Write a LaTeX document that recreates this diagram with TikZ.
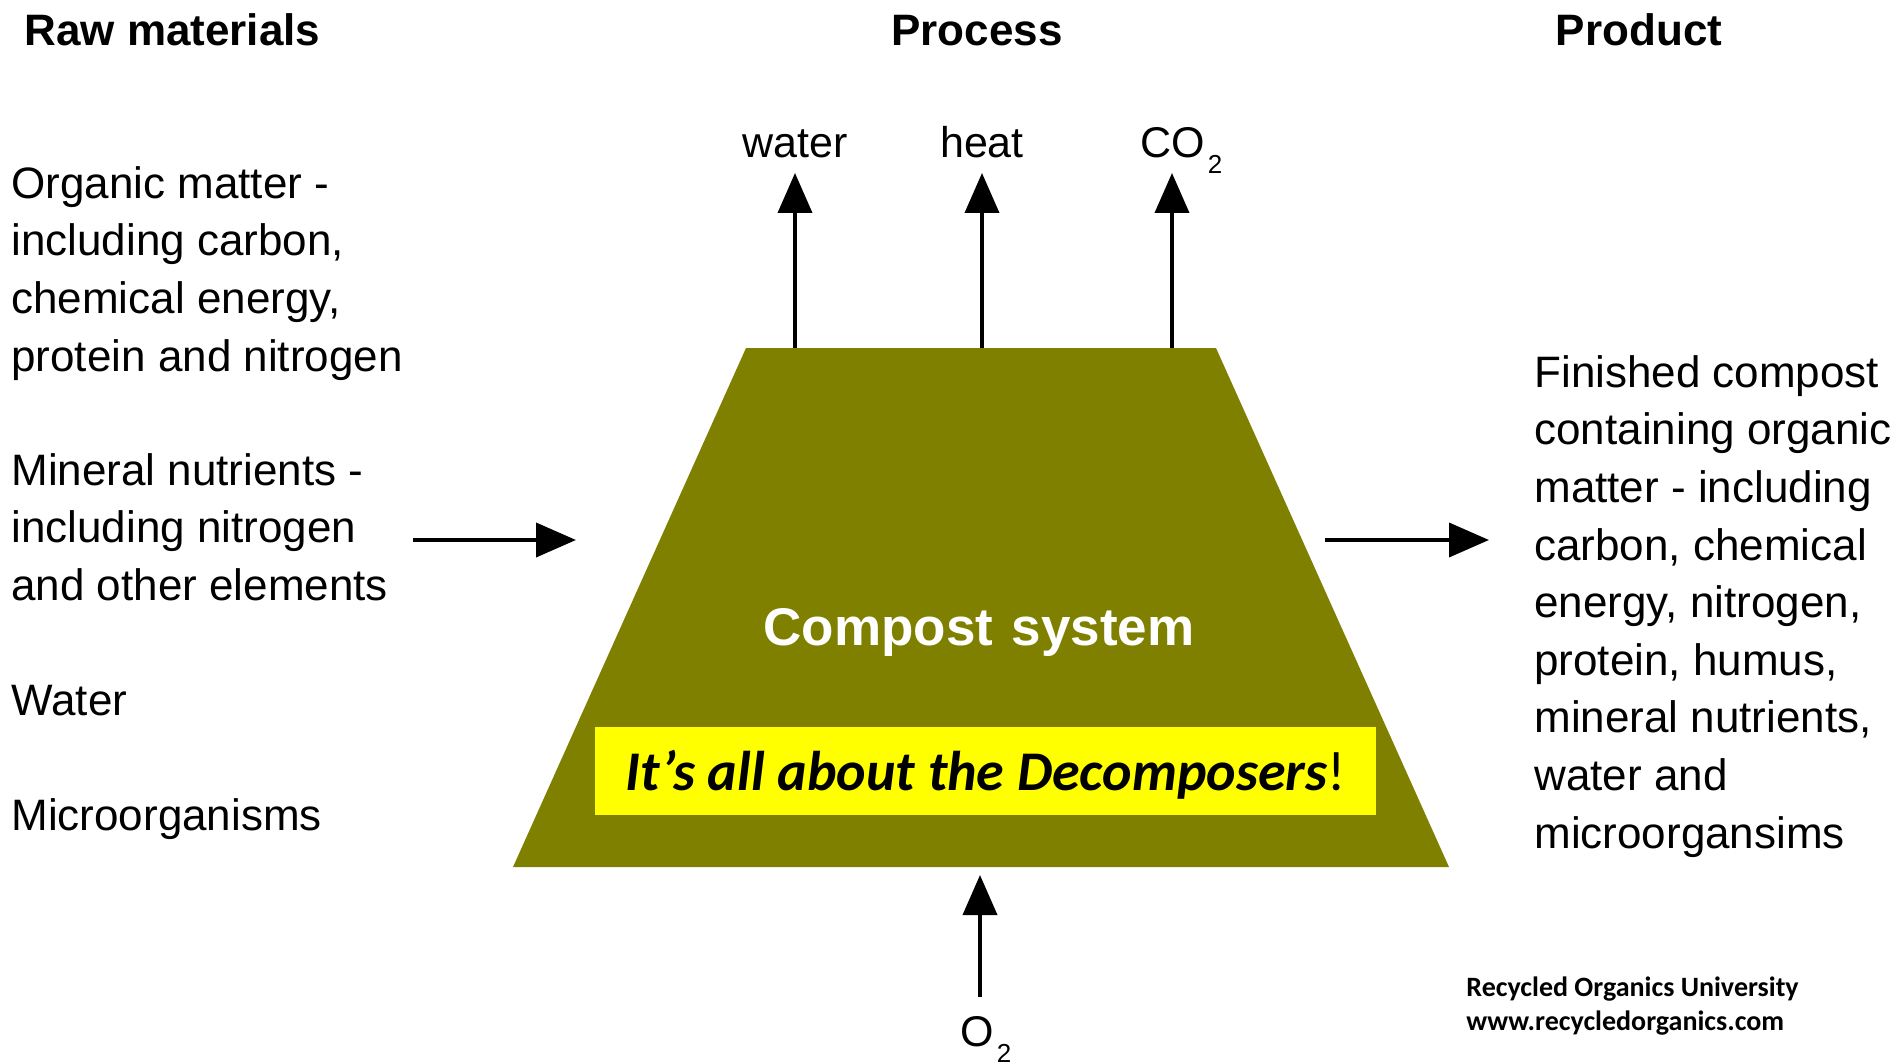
\documentclass[tikz,border=0pt]{standalone}
\usepackage{fontspec}
\setmainfont{Liberation Sans}
\newfontfamily\calibri{Carlito}
\usetikzlibrary{arrows.meta}
\definecolor{olivebox}{HTML}{808000}
\definecolor{yellowbox}{HTML}{FFFF00}
\tikzset{
  arr/.style={line width=1.9pt,-{Triangle[length=20pt,width=17pt]}},
  header/.style={font=\fontsize{22}{26}\selectfont\bfseries,inner sep=0pt},
  body/.style={font=\fontsize{22}{28.8}\selectfont,inner sep=0pt,align=left},
  flow/.style={font=\fontsize{21.5}{26}\selectfont,inner sep=0pt},
}
\newcommand{\subtwo}{\kern1.5pt\raisebox{-8pt}{\fontsize{13}{13}\selectfont 2}}
\begin{document}
\begin{tikzpicture}[x=0.5pt,y=-0.5pt]
\useasboundingbox (0,0) rectangle (1901,1064);
% headers
\node[header,anchor=base west] (hraw) at (24,46) {Raw materials};
\node[header,anchor=base] (hproc) at (977,46) {Process};
\node[header,anchor=base] (hprod) at (1639,46) {Product};
% compost trapezoid
\fill[olivebox] (746,348) -- (1216,348) -- (1449,867) -- (513,867) -- cycle;
\node[font=\fontsize{26.5}{30}\selectfont\bfseries,text=white,inner sep=0pt] (sys) at (979,632) {Compost\hspace{0.35em}system};
\node[fill=yellowbox,minimum width=781*0.5pt,minimum height=88*0.5pt,inner sep=0pt] (deco) at (985.5,771) {};
\node[font=\fontsize{28}{32}\selectfont\calibri,inner sep=0pt] (decotext) at ([yshift=-2pt]deco.center)
      {{\bfseries\itshape It’s all about the Decomposers}!};
% left texts
\node[body,anchor=north west] (org) at (11,166) {Organic matter -\\including carbon,\\chemical energy,\\protein and nitrogen};
\node[body,anchor=north west] (min) at (11,453) {Mineral nutrients -\\including nitrogen\\and other elements};
\node[body,anchor=base west] (wat) at (11,715) {Water};
\node[body,anchor=base west] (mic) at (11,830) {Microorganisms};
% right text
\node[body,anchor=north west] (fin) at (1534,355) {Finished compost\\containing organic\\matter - including\\carbon, chemical\\energy, nitrogen,\\protein, humus,\\mineral nutrients,\\water and\\microorgansims};
% top outputs
\node[flow,anchor=base] (lwater) at (795,158) {water};
\node[flow,anchor=base] (lheat) at (982,158) {heat};
\node[flow,anchor=base west] (lco) at (1140,158) {CO\subtwo};
\coordinate (w0) at (795,348); \coordinate (w1) at (795,173);
\coordinate (h0) at (982,348); \coordinate (h1) at (982,173);
\coordinate (c0) at (1172,348); \coordinate (c1) at (1172,173);
\draw[arr] (w0) -- (w1);
\draw[arr] (h0) -- (h1);
\draw[arr] (c0) -- (c1);
% input / output arrows
\coordinate (in0) at (413,540); \coordinate (in1) at (576,540);
\coordinate (out0) at (1325,540); \coordinate (out1) at (1489,540);
\draw[arr] (in0) -- (in1);
\draw[arr] (out0) -- (out1);
% oxygen
\coordinate (o0) at (980,997); \coordinate (o1) at (980,875);
\draw[arr] (o0) -- (o1);
\node[flow,anchor=base west] (lox) at (960,1046) {O\subtwo};
% footer
\node[font=\fontsize{14}{17}\selectfont\calibri\bfseries,inner sep=0pt,align=left,anchor=north west] (foot) at (1466,976) {Recycled Organics University\\www.recycledorganics.com};
\end{tikzpicture}
\end{document}
